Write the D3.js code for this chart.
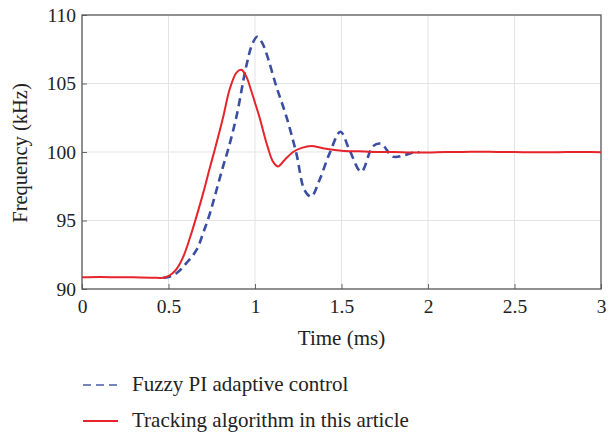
<!DOCTYPE html>
<html>
<head>
<meta charset="utf-8">
<script src="https://cdn.jsdelivr.net/npm/d3@7"></script>
<style>
  body { margin: 0; background: #fff; }
  svg { display: block; font-family: "Liberation Serif", "DejaVu Serif", serif; }
</style>
</head>
<body>
<svg width="608" height="434"></svg>
<script>
  // values
  const xTicks = [0, 0.5, 1, 1.5, 2, 2.5, 3];
  const yTicks = [90, 95, 100, 105, 110];

  const trackT = [0, 0.1, 0.2, 0.3, 0.4, 0.47, 0.495, 0.52, 0.546, 0.585, 0.623, 0.662, 0.7, 0.739, 0.767, 0.815, 0.854, 0.893, 0.921, 0.95, 0.975, 1.0, 1.027, 1.05, 1.075, 1.104, 1.133, 1.17, 1.22, 1.27, 1.325, 1.4, 1.5, 1.6, 1.7, 1.8, 1.9, 2.0, 2.1, 2.2, 2.3, 2.4, 2.5, 2.6, 2.7, 2.8, 2.9, 3.0];
  const trackV = [90.85, 90.87, 90.86, 90.85, 90.83, 90.82, 90.92, 91.12, 91.45, 92.35, 93.7, 95.3, 96.98, 98.85, 100.15, 102.5, 104.6, 105.8, 106.0, 105.5, 104.6, 103.6, 102.5, 101.4, 100.3, 99.3, 98.95, 99.4, 100.0, 100.3, 100.44, 100.25, 100.1, 100.05, 100.0, 100.0, 99.97, 99.97, 100.0, 100.0, 100.02, 100.0, 100.0, 99.98, 99.98, 100.0, 100.0, 99.98];

  const fuzzyT = [0.47, 0.5, 0.546, 0.604, 0.662, 0.7, 0.739, 0.777, 0.815, 0.844, 0.893, 0.95, 0.985, 1.012, 1.04, 1.066, 1.123, 1.181, 1.239, 1.287, 1.325, 1.373, 1.431, 1.494, 1.546, 1.614, 1.681, 1.729, 1.796, 1.86, 1.911, 1.95];
  const fuzzyV = [90.82, 90.88, 91.15, 91.9, 92.85, 94.07, 95.5, 97.2, 98.93, 100.15, 102.6, 106.3, 107.9, 108.4, 108.0, 107.2, 104.8, 102.6, 99.9, 97.2, 96.74, 97.96, 99.9, 101.48, 100.15, 98.56, 100.4, 100.6, 99.66, 99.75, 99.95, 99.98];

  const series = [
    { name: 'Fuzzy PI adaptive control', t: fuzzyT, v: fuzzyV, color: '#3a4ea3', width: 2.6, dash: '8,5' },
    { name: 'Tracking algorithm in this article', t: trackT, v: trackV, color: '#e5242b', width: 2, dash: null }
  ];

  const svg = d3.select('svg');
  const margin = { top: 15, right: 7, bottom: 145, left: 82 };
  const innerWidth = 608 - margin.left - margin.right;
  const innerHeight = 434 - margin.top - margin.bottom;

  const xScale = d3.scaleLinear().domain([0, 3]).range([0, innerWidth]);
  const yScale = d3.scaleLinear().domain([90, 110]).range([innerHeight, 0]);

  const g = svg.append('g')
    .attr('transform', `translate(${margin.left},${margin.top})`);

  // grid
  g.append('g').selectAll('line').data(xTicks.slice(1, -1)).enter().append('line')
    .attr('x1', d => xScale(d)).attr('x2', d => xScale(d))
    .attr('y1', 0).attr('y2', innerHeight)
    .attr('stroke', '#e3e3e3').attr('stroke-width', 1);
  g.append('g').selectAll('line').data(yTicks.slice(1, -1)).enter().append('line')
    .attr('y1', d => yScale(d)).attr('y2', d => yScale(d))
    .attr('x1', 0).attr('x2', innerWidth)
    .attr('stroke', '#e3e3e3').attr('stroke-width', 1);

  // axes
  const xAxis = d3.axisBottom(xScale).tickValues(xTicks).tickSize(-5).tickPadding(10)
    .tickFormat(d3.format('~g'));
  const yAxis = d3.axisLeft(yScale).tickValues(yTicks).tickSize(-5).tickPadding(6);

  const xAxisG = g.append('g').attr('transform', `translate(0,${innerHeight})`).call(xAxis);
  const yAxisG = g.append('g').call(yAxis);
  [xAxisG, yAxisG].forEach(a => {
    a.select('.domain').remove();
    a.selectAll('.tick line').attr('stroke', '#666');
    a.selectAll('.tick text')
      .attr('fill', '#222')
      .style('font-family', '"Liberation Serif", serif')
      .style('font-size', '19.5px');
  });

  // frame
  g.append('rect')
    .attr('width', innerWidth).attr('height', innerHeight)
    .attr('fill', 'none').attr('stroke', '#555').attr('stroke-width', 1.3);

  // lines
  const line = d3.line()
    .x(d => xScale(d[0]))
    .y(d => yScale(d[1]))
    .curve(d3.curveCatmullRom.alpha(0.5));

  series.forEach(s => {
    g.append('path')
      .datum(s.t.map((t, i) => [t, s.v[i]]))
      .attr('d', line)
      .attr('fill', 'none')
      .attr('stroke', s.color)
      .attr('stroke-width', s.width)
      .attr('stroke-dasharray', s.dash);
  });

  // axis labels
  svg.append('text')
    .attr('x', margin.left + innerWidth / 2)
    .attr('y', 345)
    .attr('text-anchor', 'middle')
    .attr('fill', '#222')
    .style('font-size', '21px')
    .text('Time (ms)');

  svg.append('text')
    .attr('transform', `translate(27,${margin.top + innerHeight / 2 + 1}) rotate(-90)`)
    .attr('text-anchor', 'middle')
    .attr('fill', '#222')
    .style('font-size', '20.5px')
    .text('Frequency (kHz)');

  // legend
  const legend = svg.append('g').attr('transform', 'translate(83,385)');
  series.forEach((s, i) => {
    const row = legend.append('g').attr('transform', `translate(0,${i * 36})`);
    row.append('line')
      .attr('x1', 0).attr('x2', 35)
      .attr('stroke', s.color)
      .attr('stroke-width', s.dash ? 2 : 2.2)
      .attr('stroke-opacity', s.dash ? 0.7 : 1)
      .attr('stroke-dasharray', s.dash);
    row.append('text')
      .attr('x', 49).attr('y', 6)
      .attr('fill', '#222')
      .style('font-size', '21px')
      .text(s.name);
  });
</script>
</body>
</html>
